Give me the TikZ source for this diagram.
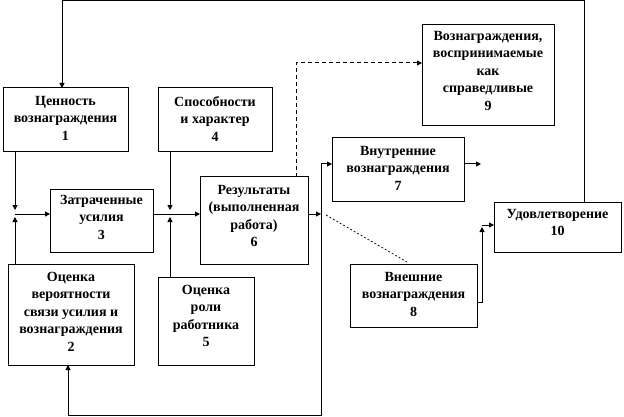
\documentclass[tikz,border=0pt]{standalone}
\usepackage{fontspec}
\setmainfont{Liberation Serif}
\usetikzlibrary{arrows.meta}
\begin{document}
\begin{tikzpicture}[x=1pt,y=-1pt,
  box/.style={draw=black,line width=1pt,fill=white,inner sep=0pt,outer sep=0pt,anchor=north west},
  txt/.style={anchor=north,inner sep=0pt,align=center,font=\bfseries\fontsize{14}{17.5}\selectfont},
  conn/.style={draw=black,line width=1pt},
  arr/.style={conn,-{Triangle[length=5pt,width=5pt]}},
  dsh/.style={dash pattern=on 4pt off 3pt},
  finedash/.style={draw=black,line width=0.7pt,dash pattern=on 2pt off 2pt}]
\useasboundingbox[fill=white] (0,0) rectangle (624,417);
% boxes
\node[box,minimum width=125pt,minimum height=64pt] (n1) at (3,88) {};
\node[box,minimum width=114pt,minimum height=64pt] (n4) at (158,88) {};
\node[box,minimum width=103pt,minimum height=63pt] (n3) at (50,189) {};
\node[box,minimum width=108pt,minimum height=87pt] (n6) at (200,177) {};
\node[box,minimum width=126pt,minimum height=101pt] (n2) at (8,264) {};
\node[box,minimum width=96pt,minimum height=88pt] (n5) at (158,277) {};
\node[box,minimum width=132pt,minimum height=101pt] (n9) at (422,25) {};
\node[box,minimum width=132pt,minimum height=63pt] (n7) at (332,138) {};
\node[box,minimum width=127pt,minimum height=50pt] (n10) at (494,202) {};
\node[box,minimum width=127pt,minimum height=63pt] (n8) at (350,264) {};
% texts
\node[txt] (t1) at ([yshift=-8pt]n1.north) {Ценность\\вознаграждения\\1};
\node[txt] (t4) at ([yshift=-8pt]n4.north) {Способности\\и характер\\4};
\node[txt] (t3) at ([yshift=-6pt]n3.north) {Затраченные\\усилия\\3};
\node[txt] (t6) at ([yshift=-8pt]n6.north) {Результаты\\(выполненная\\работа)\\6};
\node[txt] (t2) at ([yshift=-8pt]n2.north) {Оценка\\вероятности\\связи усилия и\\вознаграждения\\2};
\node[txt] (t5) at ([yshift=-8pt]n5.north) {Оценка\\роли\\работника\\5};
\node[txt] (t9) at ([yshift=-6pt]n9.north) {Вознаграждения,\\воспринимаемые\\как\\справедливые\\9};
\node[txt] (t7) at ([yshift=-8pt]n7.north) {Внутренние\\вознаграждения\\7};
\node[txt] (t10) at ([yshift=-7pt]n10.north) {Удовлетворение\\10};
\node[txt] (t8) at ([yshift=-8pt]n8.north) {Внешние\\вознаграждения\\8};
% coordinates
\coordinate (tp) at (62,1);
\coordinate (j1) at (15,214);
\coordinate (j2) at (170,214);
\coordinate (j3) at (321,214);
\coordinate (j4) at (321,164);
\coordinate (j5) at (321,415);
\coordinate (c68) at (68,415);
\coordinate (e7) at (481,164);
\coordinate (d1) at (296,63);
\coordinate (d2) at (326,215);
\coordinate (d3) at (407,262);
\coordinate (k1) at (482,302);
\coordinate (k2) at (482,227);
\coordinate (k3) at (482,225);
% connectors
\draw[arr] ([xshift=26.5pt]n10.north) |- (tp) -- (tp |- n1.north);
\draw[arr] (j1 |- n1.south) -- ([yshift=4pt]j1);
\draw[arr] (j1 |- n2.north) -- ([yshift=-3pt]j1);
\draw[arr] (j1) -- (j1 -| n3.west);
\draw[arr] (j2 |- n4.south) -- ([yshift=4pt]j2);
\draw[arr] (j2 |- n5.north) -- ([yshift=-3pt]j2);
\draw[arr] (j2 -| n3.east) -- (j2 -| n6.west);
\draw[arr] (j3 -| n6.east) -- (j3);
\draw[arr] (j4) -- (j5) -- (c68) -- (c68 |- n2.south);
\draw[arr] (j4) -- (j4 -| n7.west);
\draw[arr] (j4 -| n7.east) -- (e7);
\draw[arr,dsh] (d1 |- n6.north) -- (d1) -- (d1 -| n9.west);
\draw[finedash] (d2) -- (d3);
\draw[arr] (k1 -| n8.east) -- (k1) -- (k2);
\draw[arr] (k3) -- (k3 -| n10.west);
\end{tikzpicture}
\end{document}
